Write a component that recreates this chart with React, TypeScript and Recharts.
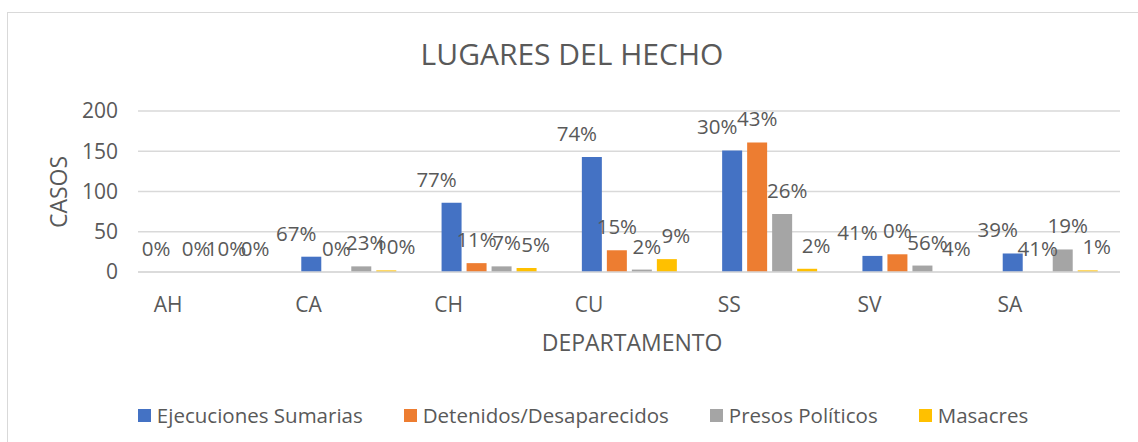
import { BarChart, Bar, XAxis, YAxis, CartesianGrid, LabelList } from 'recharts';

const categories = ['AH', 'CA', 'CH', 'CU', 'SS', 'SV', 'SA'];

const ejecuciones = [0, 19, 86, 143, 151, 20, 23];
const detenidos = [0, 0, 11, 27, 161, 22, 0];
const presos = [0, 7, 7, 3, 72, 8, 28];
const masacres = [0, 2, 5, 16, 4, 0, 2];

const ejecucionesPct = ['0%', '67%', '77%', '74%', '30%', '41%', '39%'];
const detenidosPct = ['0%', '0%', '11%', '15%', '43%', '0%', '41%'];
const presosPct = ['10%', '23%', '7%', '2%', '26%', '56%', '19%'];
const masacresPct = ['0%', '10%', '5%', '9%', '2%', '4%', '1%'];

const yTicks = [0, 50, 100, 150, 200];

const series = [
  { key: 'ejecuciones', name: 'Ejecuciones Sumarias', color: '#4472C4', pct: 'ejecucionesPct', dx: -15 },
  { key: 'detenidos', name: 'Detenidos/Desaparecidos', color: '#ED7D31', pct: 'detenidosPct', dx: 0 },
  { key: 'presos', name: 'Presos Políticos', color: '#A5A5A5', pct: 'presosPct', dx: 5 },
  { key: 'masacres', name: 'Masacres', color: '#FFC000', pct: 'masacresPct', dx: 9 },
];

const data = categories.map((c, i) => ({
  name: c,
  ejecuciones: ejecuciones[i],
  detenidos: detenidos[i],
  presos: presos[i],
  masacres: masacres[i],
  ejecucionesPct: ejecucionesPct[i],
  detenidosPct: detenidosPct[i],
  presosPct: presosPct[i],
  masacresPct: masacresPct[i],
}));

const FONT = '"Open Sans", "Liberation Sans", sans-serif';
const TEXT = '#595959';

const makeLabel = (dx: number) => (props: any) => {
  const { x, y, width, value } = props;
  return (
    <text
      x={Number(x) + Number(width) / 2 + dx}
      y={Number(y) - 24}
      textAnchor="middle"
      dominantBaseline="central"
      fill={TEXT}
      fontSize={20.5}
      fontFamily={FONT}
    >
      {value}
    </text>
  );
};

export default function App() {
  return (
    <div
      style={{
        position: 'absolute',
        left: 0,
        top: 0,
        width: 1138,
        height: 442,
        overflow: 'hidden',
        background: '#fff',
        fontFamily: FONT,
        color: TEXT,
      }}
    >
      <div
        style={{
          position: 'absolute',
          left: 7,
          top: 12,
          width: 1200,
          height: 500,
          border: '1.5px solid #D9D9D9',
        }}
      />
      <div
        style={{
          position: 'absolute',
          left: 372,
          width: 400,
          top: 34,
          textAlign: 'center',
          fontSize: 30,
          lineHeight: '40px',
        }}
      >
        LUGARES DEL HECHO
      </div>
      <div
        style={{
          position: 'absolute',
          left: 58 - 60,
          top: 192 - 16,
          width: 120,
          height: 32,
          lineHeight: '32px',
          textAlign: 'center',
          fontSize: 23,
          transform: 'rotate(-90deg)',
        }}
      >
        CASOS
      </div>
      <div
        style={{
          position: 'absolute',
          left: 632 - 150,
          top: 342 - 16,
          width: 300,
          lineHeight: '32px',
          textAlign: 'center',
          fontSize: 23,
        }}
      >
        DEPARTAMENTO
      </div>
      <div style={{ position: 'absolute', left: 0, top: 0 }}>
        <BarChart
          width={1138}
          height={442}
          data={data}
          margin={{ top: 111, right: 18, bottom: 140, left: 78 }}
          barSize={20}
          barGap={5}
        >
          <CartesianGrid vertical={false} stroke="#D9D9D9" strokeWidth={1.5} />
          <XAxis
            dataKey="name"
            height={30}
            axisLine={{ stroke: '#D9D9D9', strokeWidth: 1.5 }}
            tickLine={false}
            tick={{ fill: TEXT, fontSize: 21, fontFamily: FONT, dx: -40 }}
            tickMargin={19}
          />
          <YAxis
            width={60}
            domain={[0, 200]}
            ticks={yTicks}
            axisLine={false}
            tickLine={false}
            tickSize={0}
            tickMargin={20}
            tick={{ fill: TEXT, fontSize: 21, fontFamily: FONT }}
          />
          {series.map((s) => (
            <Bar
              key={s.key}
              dataKey={s.key}
              name={s.name}
              fill={s.color}
              minPointSize={0.01}
              isAnimationActive={false}
            >
              <LabelList dataKey={s.pct} content={makeLabel(s.dx)} />
            </Bar>
          ))}
        </BarChart>
      </div>
      <div
        style={{
          position: 'absolute',
          left: 0,
          width: 1166,
          top: 401,
          display: 'flex',
          justifyContent: 'center',
          gap: 41,
          fontSize: 20.5,
          lineHeight: '28px',
        }}
      >
        {series.map((s) => (
          <div key={s.key} style={{ display: 'flex', alignItems: 'center' }}>
            <span style={{ width: 13, height: 13, background: s.color, marginRight: 6, display: 'inline-block' }} />
            <span>{s.name}</span>
          </div>
        ))}
      </div>
    </div>
  );
}
